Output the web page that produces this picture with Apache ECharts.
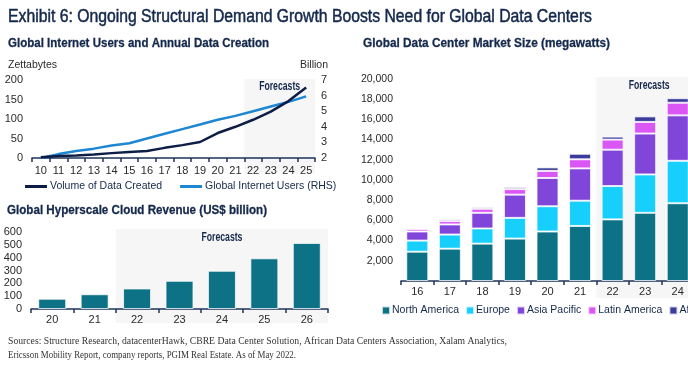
<!DOCTYPE html>
<html><head><meta charset="utf-8">
<script src="https://cdn.jsdelivr.net/npm/echarts@6/dist/echarts.min.js"></script>
<style>html,body{margin:0;padding:0;overflow:hidden;background:#fff;width:688px;height:369px}#c{width:760px;height:369px}</style>
</head><body><div id="c"></div>
<script>
// ---- data ----
const lineYears = ['10','11','12','13','14','15','16','17','18','19','20','21','22','23','24','25'];
const dataCreated = [2, 5, 6.5, 9, 12.5, 15.5, 18, 26, 33, 41, 64, 80, 98, 119, 146, 181];
const internetUsers = [2.0, 2.25, 2.45, 2.6, 2.8, 2.95, 3.25, 3.55, 3.85, 4.15, 4.45, 4.7, 5.0, 5.3, 5.6, 5.95];
const cloudYears = ['20','21','22','23','24','25','26'];
const cloudRevenue = [80, 115, 160, 220, 298, 395, 515];
const dcYears = ['16','17','18','19','20','21','22','23','24'];
const northAmerica = [2900, 3200, 3700, 4200, 4900, 5450, 6100, 6750, 7700];
const europe = [1100, 1400, 1500, 2050, 2500, 2500, 3300, 3800, 4200];
const asiaPacific = [900, 1000, 1550, 2300, 2800, 3200, 3600, 4050, 4500];
const latinAmerica = [250, 330, 400, 550, 700, 900, 1000, 1150, 1250];
const africa = [100, 170, 150, 200, 350, 550, 300, 550, 450];
const regionNames = ['North America','Europe','Asia Pacific','Latin America','Africa'];
const regionColors = ['#0e7286','#17cffd','#8046da','#da57f6','#3c3c9c'];

const SANS = '"Liberation Sans",Arial,Helvetica,sans-serif';
const SERIF = '"Liberation Serif","Times New Roman",serif';
const NAVY = '#14284b';
const AXIS = '#1f3358';
const LBL = '#2a2a2a';
const FS = 10.5;

const chart = echarts.init(document.getElementById('c'), null, {renderer:'canvas'});

const catAxis = (gi, data, extra) => Object.assign({
  type:'category', gridIndex:gi, data:data, boundaryGap:true,
  axisLine:{show:true, lineStyle:{color:AXIS, width:1.5}},
  axisTick:{show:true, length:4, lineStyle:{color:AXIS, width:1.5}},
  axisLabel:{color:LBL, fontFamily:SANS, fontSize:FS+0.5, margin:5}
}, extra||{});
const valAxis = (gi, min, max, interval, extra) => Object.assign({
  type:'value', gridIndex:gi, min:min, max:max, interval:interval,
  axisLine:{show:false}, axisTick:{show:false}, splitLine:{show:false},
  axisLabel:{color:LBL, fontFamily:SANS, fontSize:FS+0.5, margin:9}
}, extra||{});

const barBorder = {borderColor:'rgba(255,255,255,0.75)', borderWidth:1};

const series = [
  {name:'Volume of Data Created', type:'line', xAxisIndex:0, yAxisIndex:0, data:dataCreated,
   showSymbol:false, symbol:'none', lineStyle:{color:'#0c1e46', width:2.5}, itemStyle:{color:'#0c1e46'}, z:4},
  {name:'Global Internet Users (RHS)', type:'line', xAxisIndex:0, yAxisIndex:1, data:internetUsers,
   showSymbol:false, symbol:'none', lineStyle:{color:'#1f86d1', width:2.5}, itemStyle:{color:'#1f86d1'}, z:3},
  {name:'Revenue', type:'bar', xAxisIndex:1, yAxisIndex:2, data:cloudRevenue, barWidth:28,
   itemStyle:Object.assign({color:'#0e7286'}, barBorder)}
];
const regionData = [northAmerica, europe, asiaPacific, latinAmerica, africa];
regionNames.forEach((n,i)=>{
  series.push({name:n, type:'bar', stack:'dc', xAxisIndex:2, yAxisIndex:3, data:regionData[i], barWidth:22,
    itemStyle:Object.assign({color:regionColors[i]}, barBorder)});
});

const option = {
  animation:false,
  textStyle:{fontFamily:SANS},
  grid:[
    {left:32, top:80, width:283, height:78},
    {left:31, top:232, width:297, height:77},
    {left:401, top:79, width:293, height:202}
  ],
  xAxis:[catAxis(0, lineYears, {offset:2}), catAxis(1, cloudYears), catAxis(2, dcYears)],
  yAxis:[
    valAxis(0, 0, 200, 50, {name:'Zettabytes', nameLocation:'end', nameGap:9,
      nameTextStyle:{color:LBL, fontFamily:SANS, fontSize:FS, align:'left', padding:[0,0,0,-24]}}),
    valAxis(0, 2, 7, 1, {position:'right', axisLabel:{color:LBL, fontFamily:SANS, fontSize:FS+0.5, margin:6},
      name:'Billion', nameLocation:'end', nameGap:9,
      nameTextStyle:{color:LBL, fontFamily:SANS, fontSize:FS, align:'right', padding:[0,-13,0,0]}}),
    valAxis(1, 0, 600, 100),
    valAxis(2, 0, 20000, 2000, {axisLabel:{color:LBL, fontFamily:SANS, fontSize:FS, margin:8,
      formatter:v => v===0 ? '' : v.toLocaleString('en-US')}})
  ],
  legend:[
    {data:['Volume of Data Created','Global Internet Users (RHS)'], left:25, top:181, padding:0, icon:'rect',
     itemWidth:22, itemHeight:3, itemGap:18, textStyle:{color:NAVY, fontFamily:SANS, fontSize:10.5, padding:[0,0,0,-2]}},
    {data:regionNames, left:381, top:305, padding:0, icon:'rect', width:600, orient:'horizontal',
     itemWidth:8, itemHeight:8, itemGap:6, textStyle:{color:NAVY, fontFamily:SANS, fontSize:10.5, padding:[0,0,0,-3]}}
  ],
  series:series
};
chart.setOption(option);

// text helper: condense text to a target width
const mctx = document.createElement('canvas').getContext('2d');
function fitText(x, y, text, font, targetW, fill, align, extraStyle){
  mctx.font = font;
  const w = mctx.measureText(text).width;
  const s = Math.min(1.15, targetW / w);
  return {type:'text', silent:true, x:x, y:y, scaleX:s, z:100,
    style:Object.assign({text:text, font:font, fill:fill, align:align||'left', verticalAlign:'middle'}, extraStyle||{})};
}

// Forecast shading and texts derived from axes
function boundary(xi, a, b){
  const pa = chart.convertToPixel({xAxisIndex:xi}, a);
  const pb = chart.convertToPixel({xAxisIndex:xi}, b);
  return {x:(pa+pb)/2, band:pb-pa};
}
const g = [];
function shade(xi, cats, startIdx, top, bottom, labelY){
  const b = boundary(xi, cats[startIdx-1], cats[startIdx]);
  const last = chart.convertToPixel({xAxisIndex:xi}, cats[cats.length-1]) + b.band/2;
  const right = last + (xi===2 ? 8 : 0);
  g.push({type:'rect', z:-10, silent:true, shape:{x:b.x, y:top, width:right-b.x, height:bottom-top},
    style:{fill:'#f6f6f6'}});
  g.push(fitText((b.x+right)/2, labelY, 'Forecasts', 'bold 12px '+SANS, 41, NAVY, 'center'));
}
shade(0, lineYears, 12, 79, 173, 87);
shade(1, cloudYears, 2, 229, 323, 238);
shade(2, dcYears, 6, 77, 298, 86);

g.push(fitText(8, 17, 'Exhibit 6: Ongoing Structural Demand Growth Boosts Need for Global Data Centers',
  '18px '+SANS, 584, NAVY, 'left', {stroke:NAVY, lineWidth:0.5}));
g.push(fitText(8, 43, 'Global Internet Users and Annual Data Creation', 'bold 13.5px '+SANS, 261, NAVY, 'left', {stroke:NAVY, lineWidth:0.3}));
g.push(fitText(363, 43, 'Global Data Center Market Size (megawatts)', 'bold 13.5px '+SANS, 247, NAVY, 'left', {stroke:NAVY, lineWidth:0.3}));
g.push(fitText(7, 210, 'Global Hyperscale Cloud Revenue (US$ billion)', 'bold 13.5px '+SANS, 260, NAVY, 'left', {stroke:NAVY, lineWidth:0.3}));
g.push(fitText(8, 341, 'Sources: Structure Research, datacenterHawk, CBRE Data Center Solution, African Data Centers Association, Xalam Analytics,',
  '10.5px '+SERIF, 499, '#333'));
g.push(fitText(8, 355, 'Ericsson Mobility Report, company reports, PGIM Real Estate. As of May 2022.',
  '10.5px '+SERIF, 288, '#333'));
chart.setOption({graphic:g});
</script></body></html>
